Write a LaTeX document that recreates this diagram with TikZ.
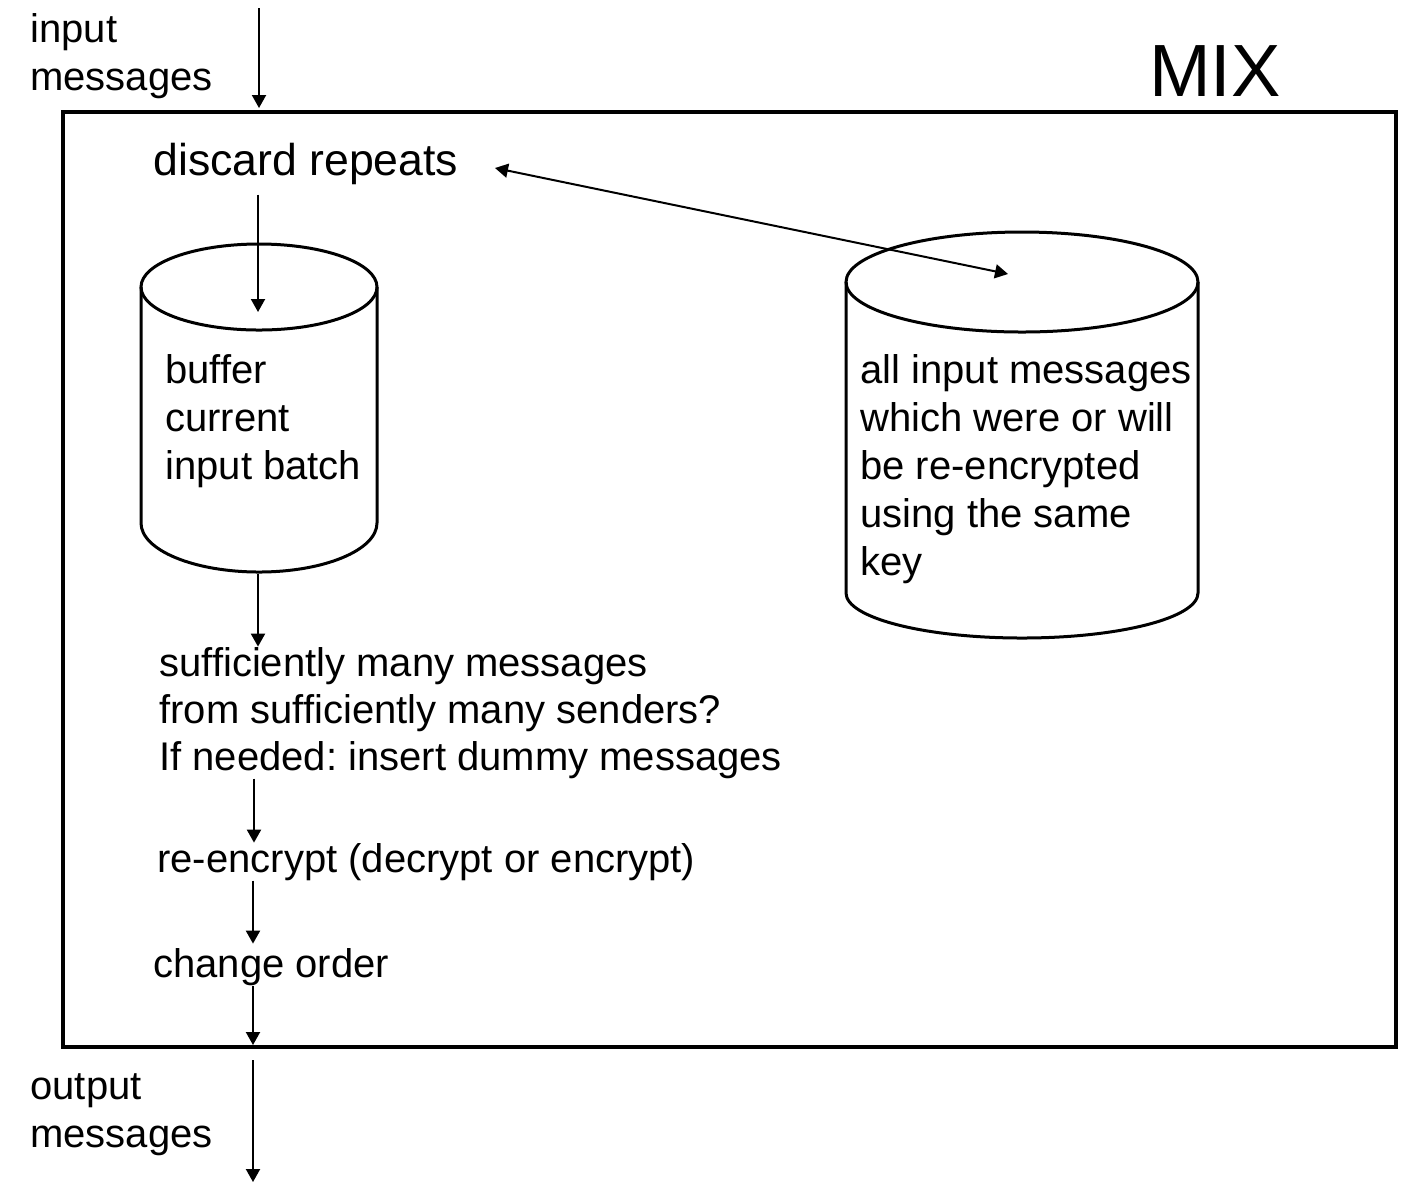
\documentclass[tikz,border=0pt]{standalone}
\usepackage{fontspec}
\setmainfont{Liberation Sans}
\usetikzlibrary{arrows.meta}
\frenchspacing

\tikzset{
  txt/.style={anchor=base west, inner sep=0pt, align=left, font=\fontsize{20}{24}\selectfont},
  cyl/.style={line width=1.5pt},
  flow/.style={-{Triangle[length=6.5pt,width=7pt]}, line width=1pt},
}

\begin{document}
\begin{tikzpicture}[x=0.5pt,y=-0.5pt]
  \useasboundingbox (0,0) rectangle (1406,1185);
  % the mix itself
  \draw[line width=2pt] (63,112) rectangle (1396,1047);
  \node[anchor=base, inner sep=0pt, font=\fontsize{37}{44}\selectfont] (mix) at (1215,96) {MIX};
  % the two stores
  \draw[cyl] (259,287) ellipse [x radius=118, y radius=43];
  \draw[cyl] (141,287) -- (141,523) arc[start angle=180, end angle=0, x radius=118, y radius=49] -- (377,287);
  \draw[cyl] (1022,282) ellipse [x radius=176, y radius=50];
  \draw[cyl] (846,282) -- (846,593) arc[start angle=180, end angle=0, x radius=176, y radius=45] -- (1198,282);
  % texts (base = last line)
  \node[txt] (inmsg) at (30,90) {input\\messages};
  \node[txt, font=\fontsize{22.3}{26}\selectfont] (discard) at (153,175) {discard repeats};
  \node[txt] (buf) at (165,479) {buffer\\current\\input batch};
  \node[txt] (store) at (860,575) {all input messages\\which were or will\\be re-encrypted\\using the same\\key};
  \node[txt, font=\fontsize{20}{23.5}\selectfont] (check) at (159,770) {sufficiently many messages\\from sufficiently many senders?\\If needed: insert dummy messages};
  \node[txt] (reenc) at (157,872) {re-encrypt (decrypt or encrypt)};
  \node[txt] (order) at (153,977) {change order};
  \node[txt] (outmsg) at (30,1147) {output\\messages};
  % arrow ends
  \coordinate (in) at (259,8);
  \coordinate (boxin) at (259,108);
  \coordinate (bufin) at (258,312);
  \coordinate (bufout) at (258,574);
  \coordinate (rep) at (495,168);
  \coordinate (storein) at (1008,274);
  \coordinate (boxout) at (253,1045);
  \coordinate (out) at (253,1182);
  \path[flow]
    (in) edge (boxin)
    (discard.south -| bufin) edge[shorten <=5pt] (bufin)
    (bufout) edge (bufout |- check.north)
    (check.south -| 254,0) edge (reenc.north -| 254,0)
    (reenc.south -| 253,0) edge[shorten >=2pt] (order.north -| 253,0)
    (order.south -| boxout) edge (boxout)
    (boxout |- 0,1060) edge (out);
  \draw[{Triangle[length=6.5pt,width=7pt]}-{Triangle[length=6.5pt,width=7pt]}, line width=1pt] (rep) -- (storein);
\end{tikzpicture}
\end{document}
